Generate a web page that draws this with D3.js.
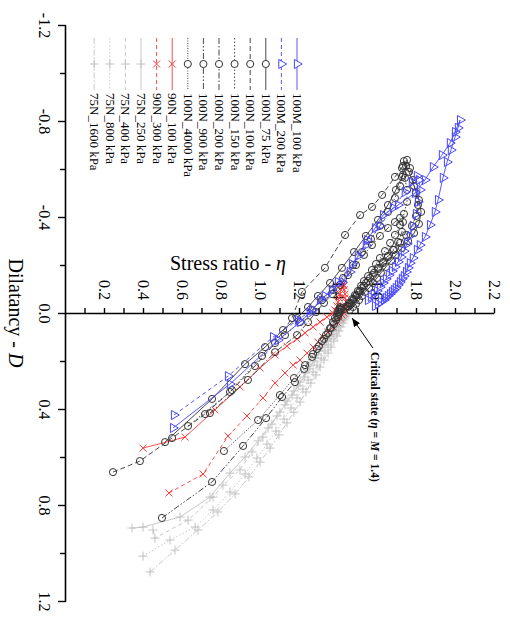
<!DOCTYPE html>
<html>
<head>
<meta charset="utf-8">
<script src="https://cdn.jsdelivr.net/npm/d3@7"></script>
<style>
body { margin: 0; background: #fff; }
text { font-family: "Liberation Serif", "Times New Roman", serif; fill: #000; }
</style>
</head>
<body>
<div id="chart"></div>
<script>
// each point is [stress ratio eta, dilatancy D]
var m100_100 = [[0.549,0.479],[0.841,0.296],[1.087,0.113],[1.200,0.038],[1.251,0],[1.303,-0.054],[1.364,-0.096],[1.415,-0.129],[1.456,-0.171],[1.497,-0.238],[1.544,-0.304],[1.585,-0.354],[1.626,-0.408],[1.703,-0.450],[1.790,-0.500],[1.841,-0.554],[1.882,-0.608],[1.928,-0.658],[1.969,-0.708],[1.995,-0.754],[2.021,-0.804],[2.010,-0.771],[1.995,-0.733],[1.974,-0.679],[1.954,-0.629],[1.933,-0.563],[1.908,-0.471],[1.892,-0.421],[1.867,-0.367],[1.841,-0.317],[1.815,-0.283],[1.800,-0.263],[1.779,-0.229],[1.764,-0.208],[1.754,-0.188],[1.744,-0.171],[1.733,-0.154],[1.723,-0.142],[1.713,-0.129],[1.703,-0.117],[1.692,-0.104],[1.682,-0.096],[1.672,-0.088],[1.662,-0.079],[1.651,-0.071],[1.641,-0.063],[1.631,-0.054],[1.615,-0.046],[1.600,-0.038],[1.585,-0.029]];
var m100_200 = [[0.554,0.425],[0.831,0.263],[1.062,0.100],[1.190,0.029],[1.262,-0.013],[1.328,-0.071],[1.395,-0.129],[1.467,-0.204],[1.538,-0.283],[1.610,-0.363],[1.677,-0.438],[1.738,-0.504],[1.774,-0.546],[1.800,-0.571],[1.810,-0.554],[1.815,-0.513],[1.805,-0.463],[1.795,-0.413],[1.779,-0.363],[1.764,-0.321],[1.749,-0.288],[1.733,-0.258],[1.718,-0.233],[1.703,-0.213],[1.687,-0.192],[1.672,-0.175],[1.656,-0.158],[1.641,-0.142],[1.626,-0.125],[1.610,-0.108],[1.595,-0.092],[1.579,-0.079],[1.564,-0.067],[1.549,-0.054]];
var n100_75 = [[0.508,0.538],[0.749,0.358],[0.918,0.213],[1.021,0.142],[1.113,0.071],[1.185,0.021],[1.241,-0.025],[1.292,-0.071],[1.354,-0.125],[1.415,-0.188],[1.477,-0.254],[1.538,-0.321],[1.600,-0.388],[1.651,-0.450],[1.692,-0.513],[1.723,-0.567],[1.744,-0.613],[1.733,-0.633],[1.759,-0.588],[1.785,-0.529],[1.810,-0.471],[1.821,-0.421],[1.810,-0.371],[1.785,-0.333],[1.754,-0.300],[1.723,-0.271],[1.692,-0.242],[1.667,-0.217],[1.641,-0.192],[1.615,-0.167],[1.595,-0.146],[1.574,-0.125],[1.554,-0.104],[1.533,-0.088],[1.518,-0.071],[1.503,-0.054],[1.487,-0.038],[1.472,-0.025],[1.456,-0.013]];
var n100_100 = [[0.241,0.663],[0.379,0.617],[0.544,0.521],[0.713,0.421],[0.851,0.321],[0.969,0.221],[1.072,0.125],[1.159,0.021],[1.210,-0.088],[1.328,-0.188],[1.431,-0.325],[1.508,-0.408],[1.569,-0.442],[1.621,-0.492],[1.687,-0.567],[1.728,-0.613],[1.749,-0.638],[1.764,-0.604],[1.779,-0.554],[1.795,-0.500],[1.805,-0.450],[1.795,-0.404],[1.774,-0.363],[1.744,-0.325],[1.713,-0.292],[1.682,-0.263],[1.651,-0.238],[1.626,-0.213],[1.600,-0.188],[1.579,-0.167],[1.559,-0.146],[1.538,-0.125],[1.518,-0.104],[1.503,-0.088],[1.487,-0.071],[1.472,-0.054],[1.456,-0.038],[1.446,-0.025]];
var n100_150 = [[0.626,0.471],[0.841,0.329],[1.005,0.179],[1.123,0.092],[1.200,0.038],[1.262,-0.013],[1.313,-0.054],[1.369,-0.096],[1.421,-0.146],[1.472,-0.200],[1.518,-0.254],[1.564,-0.308],[1.610,-0.363],[1.651,-0.421],[1.687,-0.479],[1.713,-0.529],[1.728,-0.575],[1.723,-0.604],[1.738,-0.563],[1.749,-0.513],[1.749,-0.463],[1.733,-0.413],[1.713,-0.367],[1.687,-0.325],[1.662,-0.292],[1.636,-0.258],[1.610,-0.229],[1.590,-0.204],[1.569,-0.179],[1.549,-0.154],[1.528,-0.133],[1.513,-0.113],[1.497,-0.092],[1.482,-0.075],[1.467,-0.058],[1.451,-0.042],[1.441,-0.029]];
var n100_200 = [[0.738,0.417],[0.933,0.279],[1.072,0.163],[1.185,0.092],[1.241,0.038],[1.282,-0.004],[1.323,-0.042],[1.364,-0.079],[1.405,-0.117],[1.446,-0.158],[1.487,-0.200],[1.528,-0.242],[1.569,-0.283],[1.610,-0.321],[1.651,-0.354],[1.687,-0.379],[1.713,-0.396],[1.728,-0.379],[1.723,-0.338],[1.703,-0.296],[1.677,-0.263],[1.651,-0.233],[1.626,-0.208],[1.600,-0.183],[1.574,-0.158],[1.549,-0.133],[1.528,-0.113],[1.508,-0.092],[1.492,-0.075],[1.477,-0.058],[1.462,-0.042],[1.446,-0.029],[1.431,-0.017]];
var n100_900 = [[0.492,0.854],[0.749,0.704],[0.908,0.554],[1.026,0.438],[1.108,0.350],[1.174,0.288],[1.221,0.233],[1.262,0.183],[1.287,0.150],[1.313,0.117],[1.333,0.092],[1.354,0.063],[1.369,0.038],[1.379,0.021],[1.390,0.008],[1.395,-0.004],[1.400,-0.013],[1.405,-0.017],[1.405,-0.025]];
var n100_4000 = [[0.810,0.575],[0.985,0.446],[1.097,0.342],[1.169,0.271],[1.226,0.217],[1.267,0.171],[1.297,0.138],[1.323,0.108],[1.344,0.083],[1.359,0.063],[1.374,0.046],[1.385,0.029],[1.395,0.017],[1.400,0.004],[1.405,-0.004],[1.410,-0.013],[1.410,-0.021]];
var n90_100 = [[0.395,0.563],[0.610,0.517],[0.764,0.404],[0.892,0.308],[0.995,0.229],[1.072,0.175],[1.133,0.138],[1.185,0.108],[1.226,0.083],[1.267,0.058],[1.303,0.038],[1.338,0.017],[1.369,0],[1.379,-0.013],[1.390,-0.029],[1.395,-0.046],[1.400,-0.063],[1.405,-0.079],[1.410,-0.096],[1.415,-0.108],[1.421,-0.121],[1.426,-0.113],[1.426,-0.096],[1.431,-0.079],[1.431,-0.063],[1.436,-0.046],[1.436,-0.029],[1.431,-0.013],[1.426,0]];
var n90_300 = [[0.528,0.750],[0.703,0.671],[0.831,0.513],[0.928,0.429],[1.010,0.354],[1.072,0.292],[1.123,0.250],[1.164,0.217],[1.200,0.196],[1.236,0.167],[1.267,0.142],[1.292,0.121],[1.318,0.100],[1.344,0.079],[1.369,0.058],[1.390,0.038],[1.405,0.021],[1.415,0.008],[1.421,-0.004]];
var n75_250 = [[0.338,0.896],[0.395,0.892],[0.585,0.850],[0.738,0.767],[0.841,0.667],[0.918,0.600],[0.985,0.533],[1.036,0.479],[1.082,0.429],[1.123,0.383],[1.159,0.342],[1.190,0.304],[1.221,0.267],[1.246,0.233],[1.272,0.200],[1.292,0.171],[1.313,0.142],[1.333,0.117],[1.349,0.096],[1.364,0.075],[1.379,0.058],[1.390,0.042],[1.400,0.029],[1.410,0.017],[1.415,0.008],[1.421,0]];
var n75_400 = [[0.446,0.904],[0.456,0.938],[0.626,0.863],[0.754,0.767],[0.805,0.717],[0.892,0.654],[0.954,0.579],[1.010,0.517],[1.056,0.463],[1.097,0.413],[1.133,0.367],[1.169,0.325],[1.200,0.288],[1.226,0.250],[1.251,0.221],[1.277,0.188],[1.297,0.158],[1.318,0.133],[1.338,0.108],[1.354,0.088],[1.369,0.071],[1.385,0.054],[1.395,0.038],[1.405,0.025],[1.415,0.017],[1.426,0.008]];
var n75_800 = [[0.395,1.013],[0.533,0.946],[0.662,0.892],[0.754,0.821],[0.841,0.746],[0.918,0.671],[0.979,0.604],[1.031,0.546],[1.077,0.492],[1.118,0.442],[1.154,0.396],[1.185,0.354],[1.215,0.317],[1.241,0.279],[1.267,0.246],[1.287,0.217],[1.308,0.188],[1.328,0.158],[1.344,0.133],[1.359,0.108],[1.374,0.088],[1.385,0.071],[1.395,0.054],[1.405,0.038],[1.415,0.025],[1.426,0.017],[1.431,0.008]];
var n75_1600 = [[0.431,1.079],[0.559,0.988],[0.677,0.904],[0.779,0.829],[0.867,0.754],[0.938,0.683],[0.995,0.621],[1.046,0.563],[1.092,0.508],[1.133,0.458],[1.169,0.413],[1.200,0.371],[1.231,0.329],[1.256,0.292],[1.282,0.258],[1.303,0.225],[1.323,0.196],[1.344,0.167],[1.359,0.142],[1.374,0.117],[1.390,0.096],[1.400,0.075],[1.410,0.058],[1.421,0.042],[1.426,0.029],[1.431,0.021],[1.436,0.013]];

var seriesNames = ['100M_100 kPa','100M_200 kPa','100N_75 kPa','100N_100 kPa','100N_150 kPa','100N_200 kPa','100N_900 kPa','100N_4000 kPa','90N_100 kPa','90N_300 kPa','75N_250 kPa','75N_400 kPa','75N_800 kPa','75N_1600 kPa'];
var seriesData = [m100_100, m100_200, n100_75, n100_100, n100_150, n100_200, n100_900, n100_4000, n90_100, n90_300, n75_250, n75_400, n75_800, n75_1600];

var dTicks = [-1.2, -0.8, -0.4, 0.0, 0.4, 0.8, 1.2];
var dMinor = [-1.0, -0.6, -0.2, 0.2, 0.6, 1.0];
var etaTicks = [0.2, 0.4, 0.6, 0.8, 1.0, 1.2, 1.4, 1.6, 1.8, 2.0, 2.2];
var etaMinor = [0.1, 0.3, 0.5, 0.7, 0.9, 1.1, 1.3, 1.5, 1.7, 1.9, 2.1];

// styling per series, same order as seriesNames
var BLUE = '#4646ff', RED = '#ff3c3c', DARK = '#333', GREY = '#c2c2c2';
var styles = [
  {c: BLUE, dash: null, mk: 'tri'},
  {c: BLUE, dash: '4,3', mk: 'tri'},
  {c: DARK, dash: null, mk: 'circ'},
  {c: DARK, dash: '5,3', mk: 'circ'},
  {c: DARK, dash: '1.5,2', mk: 'circ'},
  {c: DARK, dash: '6,2,1.5,2', mk: 'circ'},
  {c: DARK, dash: '6,2,1.5,2,1.5,2', mk: 'circ'},
  {c: DARK, dash: '1,1.5', mk: 'circ'},
  {c: RED, dash: null, mk: 'x'},
  {c: RED, dash: '4,3', mk: 'x'},
  {c: GREY, dash: null, mk: 'plus'},
  {c: GREY, dash: '4,3', mk: 'plus'},
  {c: GREY, dash: '1.5,2', mk: 'plus'},
  {c: GREY, dash: '6,2,1.5,2', mk: 'plus'}
];

var W = 510, H = 627;
var svg = d3.select('#chart').append('svg').attr('width', W).attr('height', H);

// chart is laid on its side: build it in a 627 x 510 frame then turn it 90deg clockwise
var g = svg.append('g').attr('transform', 'translate(' + W + ',0) rotate(90)');

var x = d3.scaleLinear().domain([-1.2, 1.2]).range([25, 601]);   // D
var y = d3.scaleLinear().domain([0, 2.2]).range([444, 15]);      // eta

function fmt(d) { return d.toFixed(1); }

var xAx = g.append('g').attr('transform', 'translate(0,' + y(0) + ')')
  .call(d3.axisBottom(x).tickValues(dTicks).tickFormat(fmt).tickSize(8).tickSizeOuter(0).tickPadding(8));
g.append('g').attr('transform', 'translate(0,' + y(0) + ')')
  .call(d3.axisBottom(x).tickValues(dMinor).tickFormat('').tickSize(6).tickSizeOuter(0))
  .select('.domain').remove();

var yAx = g.append('g').attr('transform', 'translate(' + x(0) + ',0)')
  .call(d3.axisLeft(y).tickValues(etaTicks).tickFormat(fmt).tickSize(5).tickSizeOuter(0).tickPadding(8));
g.append('g').attr('transform', 'translate(' + x(0) + ',0)')
  .call(d3.axisLeft(y).tickValues(etaMinor).tickFormat('').tickSize(5).tickSizeOuter(0))
  .select('.domain').remove();

g.selectAll('.domain').attr('stroke', '#000').attr('stroke-width', 1.6);
g.selectAll('.tick line').attr('stroke', '#000').attr('stroke-width', 1.4);
g.selectAll('.tick text').attr('font-size', 16).attr('fill', '#000')
  .attr('font-family', '"Liberation Serif", "Times New Roman", serif');

function markPath(type) {
  if (type === 'circ') return d3.symbol().type(d3.symbolCircle).size(40)();
  if (type === 'tri') return d3.symbol().type(d3.symbolTriangle).size(36)();
  if (type === 'x') return 'M-3.5,-3.5L3.5,3.5M-3.5,3.5L3.5,-3.5';
  return 'M-4.5,0H4.5M0,-4.5V4.5';
}

var line = d3.line().x(function(d) { return x(d[1]); }).y(function(d) { return y(d[0]); });

// draw loose samples first so the dense ones sit on top
for (var i = seriesData.length - 1; i >= 0; i--) {
  var st = styles[i];
  var sg = g.append('g').attr('class', 'series');
  sg.append('path')
    .attr('d', line(seriesData[i]))
    .attr('fill', 'none')
    .attr('stroke', st.c)
    .attr('stroke-width', 0.9)
    .attr('stroke-dasharray', st.dash);
  sg.selectAll('path.mk')
    .data(seriesData[i])
    .join('path')
    .attr('class', 'mk')
    .attr('transform', function(d) { return 'translate(' + x(d[1]) + ',' + y(d[0]) + ')'; })
    .attr('d', markPath(st.mk))
    .attr('fill', 'none')
    .attr('stroke', st.c)
    .attr('stroke-width', 1);
}

// legend
var leg = g.append('g');
seriesNames.forEach(function(name, i) {
  var st = styles[i];
  var ry = 213 + 15.6 * i;
  leg.append('line')
    .attr('x1', 38).attr('x2', 90).attr('y1', ry).attr('y2', ry)
    .attr('stroke', st.c).attr('stroke-width', 0.9)
    .attr('stroke-dasharray', st.dash);
  leg.append('path')
    .attr('transform', 'translate(64,' + ry + ')')
    .attr('d', markPath(st.mk))
    .attr('fill', '#fff').attr('stroke', st.c).attr('stroke-width', 1);
  leg.append('text')
    .attr('x', 93).attr('y', ry + 4)
    .attr('font-size', 13)
    .text(name);
});

// axis titles
var dt = g.append('text')
  .attr('x', x(0)).attr('y', 501)
  .attr('text-anchor', 'middle')
  .attr('font-size', 20);
dt.append('tspan').text('Dilatancy - ');
dt.append('tspan').attr('font-style', 'italic').text('D');

var et = svg.append('text')
  .attr('x', 228).attr('y', 270)
  .attr('text-anchor', 'middle')
  .attr('font-size', 20);
et.append('tspan').text('Stress ratio - ');
et.append('tspan').attr('font-style', 'italic').text('η');

// critical state note
svg.append('defs').append('marker')
  .attr('id', 'arr')
  .attr('viewBox', '0 0 10 8')
  .attr('refX', 10).attr('refY', 4)
  .attr('markerWidth', 9).attr('markerHeight', 7)
  .attr('markerUnits', 'userSpaceOnUse')
  .attr('orient', 'auto')
  .append('path').attr('d', 'M0,0L10,4L0,8z').attr('fill', '#000');

g.append('line')
  .attr('x1', x(0.146)).attr('y1', y(1.574))
  .attr('x2', x(0.021)).attr('y2', y(1.467))
  .attr('stroke', '#000').attr('stroke-width', 1)
  .attr('marker-end', 'url(#arr)');

var ct = g.append('text')
  .attr('x', x(0.163)).attr('y', y(1.585) + 4)
  .attr('font-size', 11.5)
  .attr('font-weight', 'bold');
ct.append('tspan').text('Critical state (');
ct.append('tspan').attr('font-style', 'italic').text('η');
ct.append('tspan').text(' = ');
ct.append('tspan').attr('font-style', 'italic').text('M');
ct.append('tspan').text(' = 1.4)');
</script>
</body>
</html>
